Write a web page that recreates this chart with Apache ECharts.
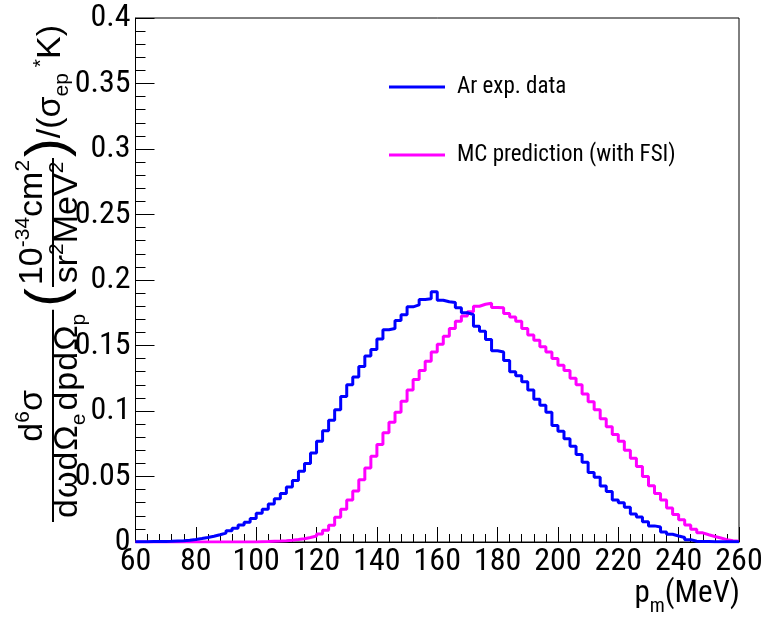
<!DOCTYPE html>
<html><head><meta charset="utf-8">
<script src="https://cdn.jsdelivr.net/npm/echarts@6/dist/echarts.min.js"></script>
<style>html,body{margin:0;padding:0;background:#fff}#c{width:779px;height:624px}</style>
</head><body><div id="c"></div>
<script>
// Histogram binning (MeV)
const xMin = 60, xMax = 260, binWidth = 2;
const xTicks = [60, 80, 100, 120, 140, 160, 180, 200, 220, 240, 260];
const yTicks = [0, 0.05, 0.1, 0.15, 0.2, 0.25, 0.3, 0.35, 0.4];
const seriesNames = ['Ar exp. data', 'MC prediction (with FSI)'];

// Ar exp. data, bins of 2 MeV starting at 60 MeV
const arData = [
  0.0002,0.0002,0.0003,0.0003,0.0004,0.0005,0.0007,0.0009,0.0013,0.0019,
  0.0026,0.0034,0.0044,0.0055,0.0068,0.0085,0.0105,0.013,0.015,0.018,
  0.022,0.025,0.029,0.033,0.037,0.042,0.047,0.054,0.060,0.068,
  0.077,0.085,0.093,0.101,0.111,0.120,0.126,0.134,0.142,0.147,
  0.155,0.162,0.163,0.169,0.1735,0.1795,0.181,0.1852,0.1856,0.191,
  0.1846,0.1834,0.1828,0.1788,0.175,0.1736,0.1646,0.1608,0.1546,0.146,
  0.145,0.1385,0.130,0.127,0.1223,0.116,0.109,0.1044,0.099,0.089,
  0.0846,0.0788,0.073,0.0667,0.0608,0.053,0.0495,0.0428,0.0385,0.032,
  0.030,0.0265,0.0213,0.019,0.0154,0.0123,0.0115,0.0077,0.0059,0.0046,
  0.0034,0.0018,0.0006,0.0004,0.0003,0.0002,0.0002,0.0001,0.0001,0.0001
];
// MC prediction (with FSI)
const mcData = [
  0,0,0,0,0,0,0,0,0,0,
  0,0,0,0,0,0,0,0,0,0,
  0.0002,0.0003,0.0005,0.0007,0.001,0.0014,0.0019,0.0025,0.0034,0.0046,
  0.0062,0.009,0.0128,0.0188,0.025,0.032,0.039,0.0475,0.0565,0.0654,
  0.0744,0.0834,0.0915,0.099,0.1075,0.116,0.124,0.131,0.138,0.145,
  0.151,0.157,0.163,0.1685,0.1726,0.1757,0.180,0.1815,0.1823,0.179,
  0.1788,0.1744,0.1718,0.1685,0.163,0.158,0.154,0.149,0.145,0.140,
  0.135,0.131,0.125,0.120,0.113,0.107,0.101,0.094,0.088,0.082,
  0.077,0.070,0.064,0.0577,0.050,0.043,0.037,0.032,0.026,0.021,
  0.017,0.013,0.0098,0.007,0.0055,0.0042,0.003,0.0018,0.001,0.0005
];

function toSteps(vals) {
  const pts = vals.map((v, i) => [xMin + i * binWidth, v]);
  pts.push([xMin + vals.length * binWidth, vals[vals.length - 1]]);
  return pts;
}

const COND = '"Roboto Condensed", "Liberation Sans", sans-serif';
const TFONT = '"Liberation Sans", Arial, sans-serif';

// ---- y-axis title layout helper (rotated text with sub/superscripts) ----
const mctx = document.createElement('canvas').getContext('2d');
function measure(t, s, fam) { mctx.font = s + 'px ' + fam; return mctx.measureText(t).width; }
function runWidth(items) { return items.reduce((a, it) => a + measure(it.t, it.s, TFONT) + (it.gap || 0), 0); }
function runEls(items, x0, base) {
  const els = []; let x = x0;
  for (const it of items) {
    els.push({type: 'text', x: x, y: base + (it.dy || 0) - 0.35 * it.s,
      style: {text: it.t, fontSize: it.s, fontFamily: TFONT, fill: '#000', align: 'left', verticalAlign: 'middle', lineHeight: it.s}});
    x += measure(it.t, it.s, TFONT) + (it.gap || 0);
  }
  return els;
}
const S = 34, s2 = 21;
const UP = -0.42 * S, DN = 0.22 * S;
const numMain = [{t: 'd', s: S}, {t: '6', s: s2, dy: UP}, {t: 'σ', s: S}];
const denMain = [{t: 'd', s: S, gap: 1}, {t: 'ω', s: S, gap: 1}, {t: 'd', s: S, gap: 1}, {t: 'Ω', s: S}, {t: 'e', s: s2, dy: DN, gap: 3},
                 {t: 'd', s: S, gap: 1}, {t: 'p', s: S, gap: 1}, {t: 'd', s: S, gap: 1}, {t: 'Ω', s: S}, {t: 'p', s: s2, dy: DN}];
const numSmall = [{t: '10', s: S}, {t: '-34', s: s2, dy: UP}, {t: 'cm', s: S}, {t: '2', s: s2, dy: UP}];
const denSmall = [{t: 'sr', s: S}, {t: '2', s: s2, dy: UP}, {t: 'MeV', s: S}, {t: '2', s: s2, dy: UP}];
const tail = [{t: '/(σ', s: S}, {t: 'ep', s: s2, dy: DN, gap: 6}, {t: '*', s: s2, dy: UP}, {t: 'K)', s: S}];

function buildTitle() {
  const els = [];
  const numB = -8, denB = 0.8 * S - 1; // baselines relative to fraction bar
  let x = 0;
  const wN = runWidth(numMain), wD = runWidth(denMain), w1 = Math.max(wN, wD) + 8;
  els.push({type: 'line', shape: {x1: x, y1: 0, x2: x + w1, y2: 0}, style: {stroke: '#000', lineWidth: 2}});
  els.push(...runEls(numMain, x + (w1 - wN) / 2, numB));
  els.push(...runEls(denMain, x + (w1 - wD) / 2, denB));
  x += w1 + 3;
  const P = 56;
  els.push(...runEls([{t: '(', s: P}], x, 0.27 * P));
  x += measure('(', P, TFONT) + 1;
  const wn = runWidth(numSmall), wd = runWidth(denSmall), w2 = Math.max(wn, wd) + 4;
  els.push({type: 'line', shape: {x1: x, y1: 0, x2: x + w2, y2: 0}, style: {stroke: '#000', lineWidth: 2}});
  els.push(...runEls(numSmall, x + (w2 - wn) / 2, numB));
  els.push(...runEls(denSmall, x + (w2 - wd) / 2, denB));
  x += w2 + 1;
  els.push(...runEls([{t: ')', s: P}], x, 0.27 * P));
  x += measure(')', P, TFONT);
  els.push(...runEls(tail, x, 0.28 * S));
  return els;
}

const chart = echarts.init(document.getElementById('c'), null, {renderer: 'canvas'});
chart.setOption({
  animation: false,
  backgroundColor: '#fff',
  grid: {left: 135.5, right: 40, top: 18, bottom: 82, show: true, borderColor: '#000', borderWidth: 1},
  legend: {
    orient: 'vertical', left: 384, top: 69, itemGap: 42,
    itemWidth: 56, itemHeight: 3, icon: 'rect',
    textStyle: {fontFamily: COND, fontSize: 23, color: '#000', lineHeight: 26, padding: [0, 0, 0, 7]},
    data: seriesNames
  },
  xAxis: {
    type: 'value', min: xMin, max: xMax, interval: 20,
    axisLine: {lineStyle: {color: '#000', width: 1}},
    axisTick: {inside: true, length: 15, lineStyle: {color: '#000'}},
    minorTick: {show: true, splitNumber: 5, length: 8, lineStyle: {color: '#000'}},
    splitLine: {show: false},
    axisLabel: {fontFamily: COND, fontSize: 32, color: '#000', margin: 4,
      formatter: v => xTicks.includes(v) ? String(v) : ''}
  },
  yAxis: {
    type: 'value', min: 0, max: 0.4, interval: 0.05,
    axisLine: {lineStyle: {color: '#000', width: 1}},
    axisTick: {inside: true, length: 19, lineStyle: {color: '#000'}},
    minorTick: {show: true, splitNumber: 5, length: 10, lineStyle: {color: '#000'}},
    splitLine: {show: false},
    axisLabel: {fontFamily: COND, fontSize: 32, color: '#000', margin: 5,
      formatter: v => { const t = yTicks.find(y => Math.abs(y - v) < 1e-9); return t === undefined ? '' : String(t); }}
  },
  series: [
    {name: seriesNames[0], type: 'line', step: 'end', symbol: 'none', data: toSteps(arData),
     lineStyle: {color: '#0000ff', width: 3}, itemStyle: {color: '#0000ff'}, z: 3},
    {name: seriesNames[1], type: 'line', step: 'end', symbol: 'none', data: toSteps(mcData),
     lineStyle: {color: '#ff00ff', width: 3}, itemStyle: {color: '#ff00ff'}, z: 2}
  ],
  graphic: [
    {type: 'text', right: 39, top: 579,
     style: {text: '{n|p}{sub|m}{n|(MeV)}', rich: {
       n: {fontSize: 31, fontFamily: COND, color: '#000', lineHeight: 34},
       sub: {fontSize: 20, fontFamily: COND, color: '#000', verticalAlign: 'bottom', lineHeight: 44}}}},
    {type: 'group', x: 53, y: 522, rotation: Math.PI / 2, children: buildTitle()}
  ]
});
</script></body></html>
